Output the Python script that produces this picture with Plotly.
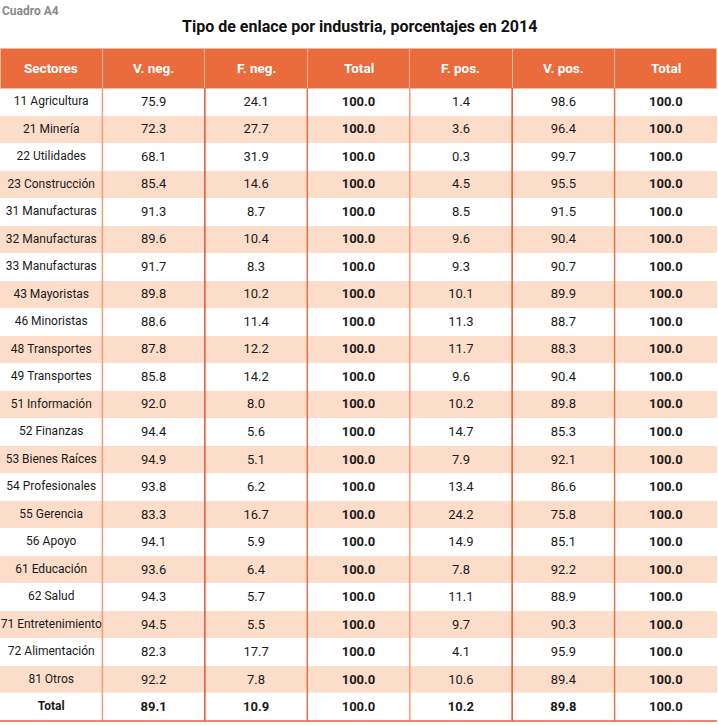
import plotly.graph_objects as go

W, H = 718, 725

headers = ["Sectores", "V. neg.", "F. neg.", "Total", "F. pos.", "V. pos.", "Total"]
sectores = ["11 Agricultura", "21 Minería", "22 Utilidades", "23 Construcción",
            "31 Manufacturas", "32 Manufacturas", "33 Manufacturas", "43 Mayoristas",
            "46 Minoristas", "48 Transportes", "49 Transportes", "51 Información",
            "52 Finanzas", "53 Bienes Raíces", "54 Profesionales", "55 Gerencia",
            "56 Apoyo", "61 Educación", "62 Salud", "71 Entretenimiento",
            "72 Alimentación", "81 Otros", "Total"]
v_neg = [75.9, 72.3, 68.1, 85.4, 91.3, 89.6, 91.7, 89.8, 88.6, 87.8, 85.8, 92.0,
         94.4, 94.9, 93.8, 83.3, 94.1, 93.6, 94.3, 94.5, 82.3, 92.2, 89.1]
f_neg = [24.1, 27.7, 31.9, 14.6, 8.7, 10.4, 8.3, 10.2, 11.4, 12.2, 14.2, 8.0,
         5.6, 5.1, 6.2, 16.7, 5.9, 6.4, 5.7, 5.5, 17.7, 7.8, 10.9]
total_neg = [100.0] * 23
f_pos = [1.4, 3.6, 0.3, 4.5, 8.5, 9.6, 9.3, 10.1, 11.3, 11.7, 9.6, 10.2,
         14.7, 7.9, 13.4, 24.2, 14.9, 7.8, 11.1, 9.7, 4.1, 10.6, 10.2]
v_pos = [98.6, 96.4, 99.7, 95.5, 91.5, 90.4, 90.7, 89.9, 88.7, 88.3, 90.4, 89.8,
         85.3, 92.1, 86.6, 75.8, 85.1, 92.2, 88.9, 90.3, 95.9, 89.4, 89.8]
total_pos = [100.0] * 23

n = len(sectores)
NBSP = "\u00a0"

def fmt(vals):
    return [f"{v:.1f}" for v in vals]

col_sect = [s.replace(" ", NBSP) for s in sectores]
cols = [col_sect, fmt(v_neg), fmt(f_neg), fmt(total_neg),
        fmt(f_pos), fmt(v_pos), fmt(total_pos)]

body_cols = [c[:-1] for c in cols]      # sector rows
total_row = [c[-1] for c in cols]       # final "Total" row
nb = len(body_cols[0])

col_weights = ["normal", "normal", "normal", "bold", "normal", "normal", "bold"]

ORANGE = "#EA6B3C"
PEACH = "#FCDDC9"
row_fill = [PEACH if i % 2 == 1 else "white" for i in range(nb)]
total_fill = PEACH if nb % 2 == 1 else "white"

FONT = "Roboto, Liberation Sans, sans-serif"
sizes = [12, 13, 13, 13, 13, 13, 13]

top_px, header_h, bottom_px = 48.5, 39.5, 721
row_h = (bottom_px - top_px - header_h) / n
tbl_right = 717
split_px = bottom_px - row_h

fig = go.Figure()
fig.add_trace(go.Table(
    domain=dict(x=[0, tbl_right / W], y=[1 - split_px / H, 1 - top_px / H]),
    columnwidth=[1] * 7,
    header=dict(
        values=[""] * 7,
        fill_color=ORANGE,
        line=dict(color="#F6B9A0", width=1),
        font=dict(family=FONT, size=13, color="white", weight="bold"),
        align="center",
        height=header_h,
    ),
    cells=dict(
        values=body_cols,
        fill_color=[row_fill] * 7,
        line=dict(width=0, color="rgba(0,0,0,0)"),
        font=dict(family=FONT, size=sizes, color="#1a1a1a", weight=col_weights),
        align="center",
        height=row_h,
    ),
))
fig.add_trace(go.Table(
    domain=dict(x=[0, tbl_right / W], y=[0, 1 - split_px / H]),
    columnwidth=[1] * 7,
    header=dict(
        values=total_row,
        fill_color=total_fill,
        line=dict(width=0, color="rgba(0,0,0,0)"),
        font=dict(family=FONT, size=sizes, color="#1a1a1a", weight="bold"),
        align="center",
        height=row_h,
    ),
    cells=dict(values=[[] for _ in range(7)], line=dict(width=0), height=1),
))

# header labels, vertically centred in the header band
col_w = tbl_right / 7
for k, h in enumerate(headers):
    fig.add_annotation(text=f"<b>{h}</b>", xref="paper", yref="paper",
                       x=(k + 0.5) * col_w / W, y=1 - (top_px + header_h / 2) / H,
                       xanchor="center", yanchor="middle", showarrow=False,
                       font=dict(family=FONT, size=13.5, color="white"))

# vertical separators in body
line_colors = ["#F29B7D", "#E8532C", "#EC7048", "#F29B7D", "#E8532C", "#EC7048"]
y0 = 1 - bottom_px / H
y1 = 1 - (top_px + header_h) / H
for k, c in enumerate(line_colors, start=1):
    xb = k * col_w
    fig.add_shape(type="line", xref="paper", yref="paper",
                  x0=xb / W, x1=xb / W, y0=y0, y1=y1,
                  line=dict(color=c, width=1.5), layer="above")
# bottom rule
fig.add_shape(type="line", xref="paper", yref="paper",
              x0=0, x1=tbl_right / W, y0=y0, y1=y0,
              line=dict(color="#E8603A", width=1.5), layer="above")

fig.add_annotation(text="<b>Cuadro A4</b>", xref="paper", yref="paper",
                   x=0, y=1 - 2 / H, xanchor="left", yanchor="top", showarrow=False,
                   font=dict(family=FONT, size=12, color="#8a8a8a"))
fig.add_annotation(text="<b>Tipo de enlace por industria, porcentajes en 2014</b>",
                   xref="paper", yref="paper", x=0.5, y=1 - 15 / H,
                   xanchor="center", yanchor="top", showarrow=False,
                   font=dict(family=FONT, size=16, color="#111111"))

fig.update_layout(width=W, height=H, margin=dict(l=0, r=0, t=0, b=0),
                  paper_bgcolor="white", plot_bgcolor="white")

fig.write_html("out.html", config={"displayModeBar": False},
               post_script="document.body.style.margin='0';document.body.style.overflow='hidden';")
